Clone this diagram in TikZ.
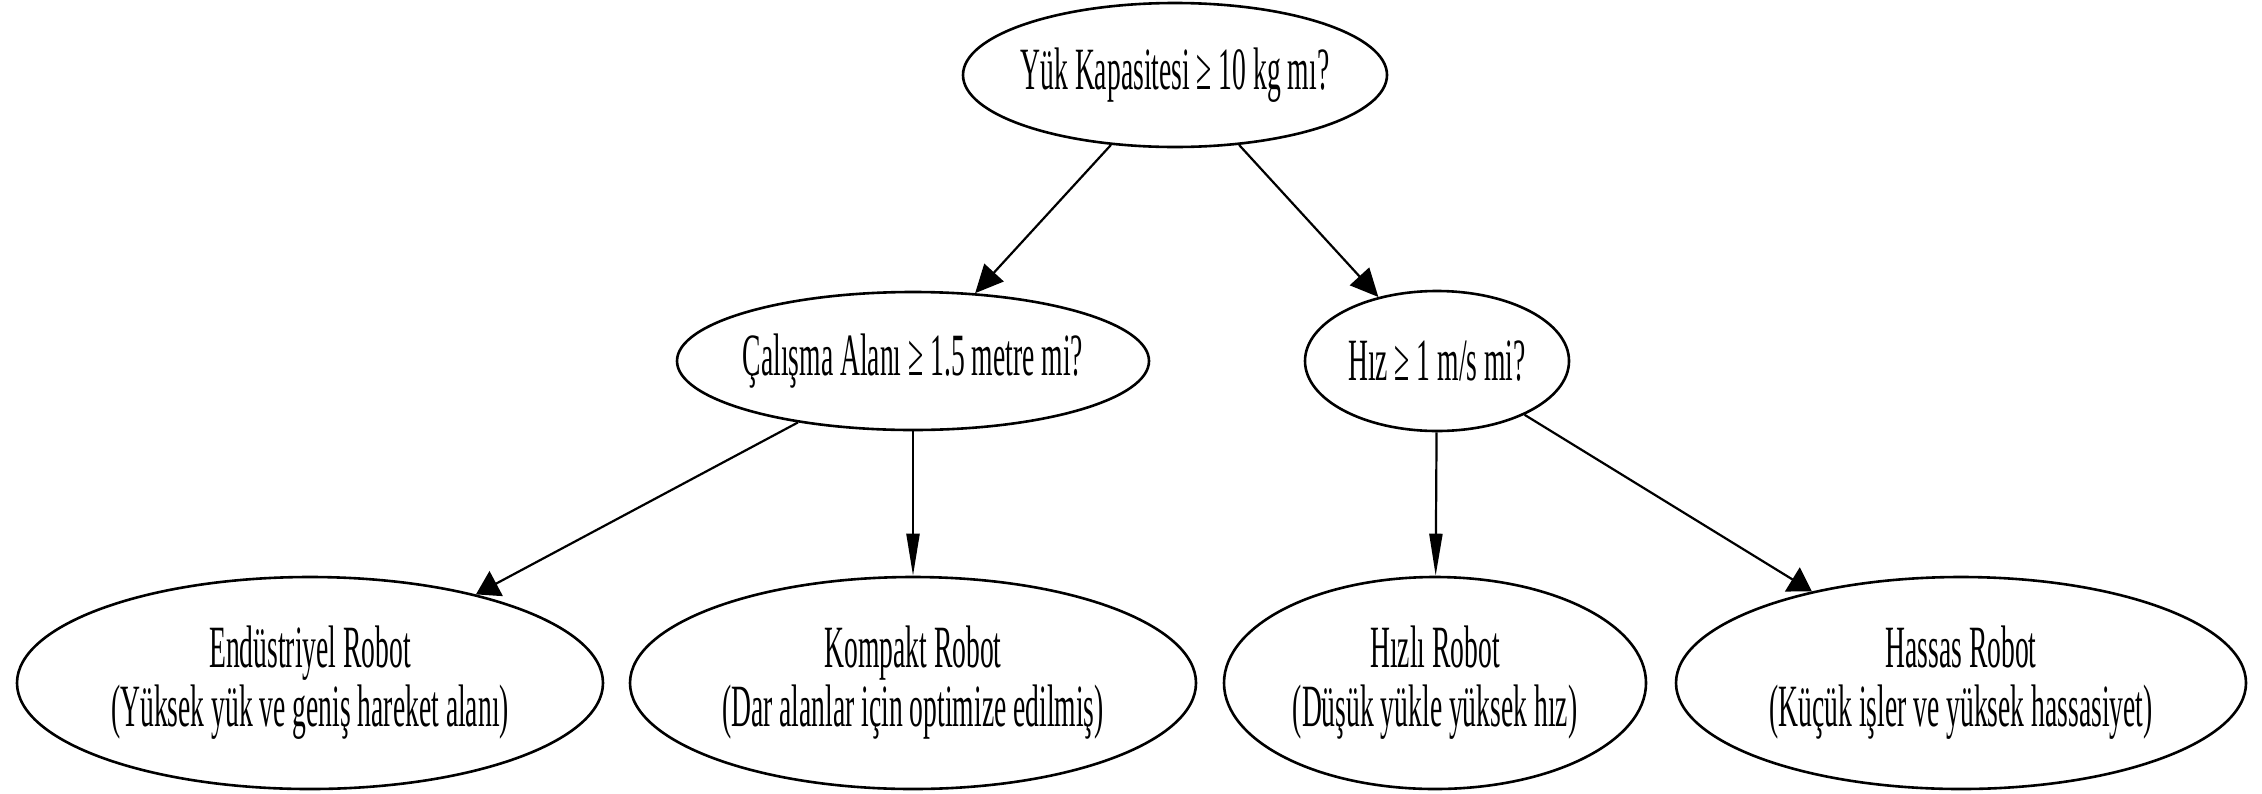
\documentclass[tikz,border=0pt]{standalone}
\usepackage{fontspec}
\setmainfont{Liberation Serif}[FakeStretch=0.46]
\usetikzlibrary{arrows.meta,shapes.geometric}
\begin{document}
\begin{tikzpicture}[x=0.5pt,y=-0.5pt,
  qnode/.style={draw,ellipse,line width=1.3pt,inner xsep=-6pt,inner ysep=0pt,align=center,
    font=\fontsize{30}{29.5}\selectfont},
  edge/.style={draw,line width=1.1pt},
  steep/.style={edge,-{Triangle[length=14pt,width=13pt]}},
  flat/.style={edge,-{Triangle[length=11.5pt,width=14pt]}},
  vert/.style={edge,-{Triangle[length=21pt,width=6.5pt]}}]
\useasboundingbox (0,0) rectangle (2262,793);
% decision nodes
\node[qnode,minimum width=212pt,minimum height=72pt] (top) at (1175,75) {Yük Kapasitesi ≥ 10 kg mı?};
\node[qnode,minimum width=236pt,minimum height=69pt] (area) at (913,361) {Çalışma Alanı ≥ 1.5 metre mi?};
\node[qnode,minimum width=132pt,minimum height=70pt] (speed) at (1437,361) {Hız ≥ 1 m/s mi?};
% outcome nodes
\node[qnode,minimum width=293pt,minimum height=106pt] (ind) at (310,683) {Endüstriyel Robot\\(Yüksek yük ve geniş hareket alanı)};
\node[qnode,minimum width=283pt,minimum height=106pt] (comp) at (913,683) {Kompakt Robot\\(Dar alanlar için optimize edilmiş)};
\node[qnode,minimum width=211pt,minimum height=106pt] (fast) at (1435,683) {Hızlı Robot\\(Düşük yükle yüksek hız)};
\node[qnode,minimum width=285pt,minimum height=106pt] (prec) at (1961,683) {Hassas Robot\\(Küçük işler ve yüksek hassasiyet)};
% connectors
\draw[steep] (top) -- (area);
\draw[steep] (top) -- (speed);
\draw[flat] (area) -- (ind);
\draw[vert] (area) -- (comp);
\draw[vert] (speed) -- (fast);
\draw[flat] (speed) -- (prec);
\end{tikzpicture}
\end{document}
